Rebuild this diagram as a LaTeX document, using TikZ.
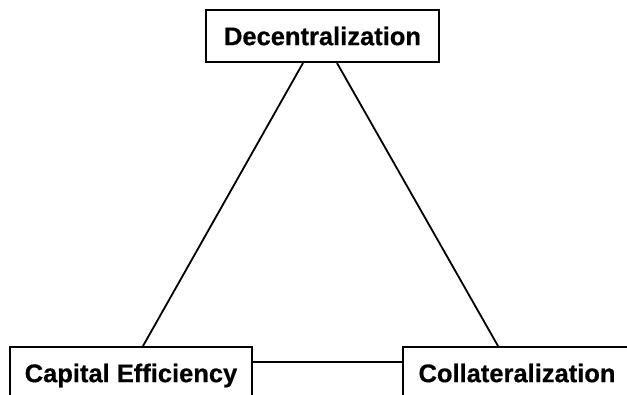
\documentclass[tikz,border=0pt]{standalone}
\usepackage{fontspec}
\setmainfont{Liberation Sans}
\newfontfamily\heavyfont[FakeBold=0.6]{Liberation Sans Bold}
\begin{document}
\begin{tikzpicture}[x=1pt,y=-1pt,
  box/.style={draw=black,line width=2pt,rectangle,minimum height=52pt,inner sep=0pt,
    text height=18.3pt,text depth=0pt,
    font=\fontsize{25.5}{30}\selectfont\heavyfont,text=black,fill=white},
  link/.style={draw=black,line width=1.8pt}]
\useasboundingbox (0,0) rectangle (627,395);
\clip (0,0) rectangle (627,395);
\node[box,minimum width=233pt] (top) at (322.5,36) {Decentralization};
\node[box,minimum width=242pt] (left) at (131,373) {Capital Efficiency};
\node[box,minimum width=228pt] (right) at (517,373) {Collateralization};
\draw[link] ([xshift=-19.5pt]top.south) -- ([xshift=12pt]left.north);
\draw[link] ([xshift=14.5pt]top.south) -- ([xshift=-19pt]right.north);
\draw[link] ([yshift=11pt]left.east) -- ([yshift=11pt]right.west);
\end{tikzpicture}
\end{document}
